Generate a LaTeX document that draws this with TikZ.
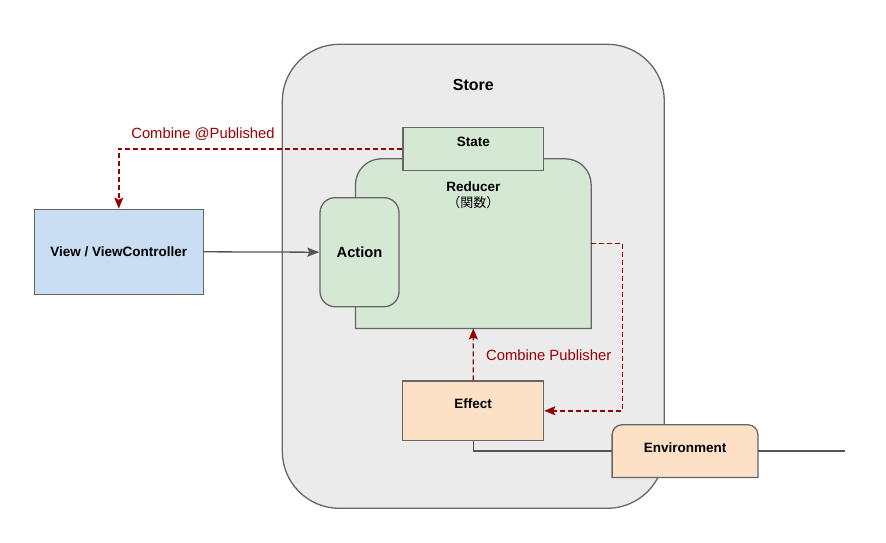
\documentclass[tikz,border=0pt]{standalone}
\usepackage{fontspec}
\setmainfont{Liberation Sans}
\newfontfamily\jpfont{Noto Sans CJK JP}
\usetikzlibrary{positioning}
\usetikzlibrary{arrows.meta}

\definecolor{storefill}{HTML}{EBEBEB}
\definecolor{boxline}{HTML}{666666}
\definecolor{greenfill}{HTML}{D5E8D4}
\definecolor{bluefill}{RGB}{201,222,242}
\definecolor{orangefill}{RGB}{252,225,199}
\definecolor{combinered}{HTML}{990000}
\definecolor{flowgray}{HTML}{555555}

\begin{document}
\begin{tikzpicture}[x=1pt, y=-1pt,
  every node/.style={font=\fontsize{13.5}{15}\selectfont\bfseries, inner sep=0pt},
  box/.style={draw=boxline, line width=1.3pt},
  edgetext/.style={font=\fontsize{14.8}{16}\selectfont, text=combinered},
  publish/.style={draw=combinered, line width=1.4pt, dash pattern=on 5pt off 3pt, -{Stealth[length=11pt, width=9pt, inset=2pt]}},
  flow/.style={draw=flowgray, line width=1.3pt, -{Stealth[length=12pt, width=9pt, inset=2pt]}}]
\useasboundingbox (0,0) rectangle (886,543);

% store
\draw[box, fill=storefill, rounded corners=57pt] (282.3,44.3) rectangle (664.3,508.3);
\node[font=\fontsize{16}{18}\selectfont\bfseries] (StoreTitle) at (473.3,85) {Store};

% reducer (top corners rounded)
\node[minimum width=235.3pt, minimum height=169.3pt] (Reducer) at (473.3,243.6) {};
\draw[box, fill=greenfill] (Reducer.south west) [rounded corners=26pt] -- (Reducer.north west) -- (Reducer.north east) [sharp corners] -- (Reducer.south east) -- cycle;
\node[align=center] (ReducerText) at (473.3,195.5) {Reducer\\[1pt]{\jpfont\mdseries\fontsize{13}{15}\selectfont （関数）}};

\node[box, fill=greenfill, minimum width=140.7pt, minimum height=43pt,
  label={[anchor=center, yshift=-15.5pt]north:State}] (State) at (473.3,148.8) {};
\node[box, fill=greenfill, rounded corners=15pt, minimum width=79pt, minimum height=109pt,
  font=\fontsize{14.7}{16}\selectfont\bfseries] (Action) at (359.5,252.2) {Action};

\node[box, fill=bluefill, minimum width=169pt, minimum height=85pt] (View) at (118.8,251.8) {View / ViewController};

\node[box, fill=orangefill, minimum width=141pt, minimum height=59.7pt,
  label={[anchor=center, yshift=-23.3pt]north:Effect}] (Effect) at (473.2,410.8) {};

% environment (top corners rounded)
\node[minimum width=145.4pt, minimum height=52.3pt] (Environment) at (685,451.1) {};
\draw[box, fill=orangefill] (Environment.south west) [rounded corners=10pt] -- (Environment.north west) -- (Environment.north east) [sharp corners] -- (Environment.south east) -- cycle;
\node (EnvText) at (685,447.3) {Environment};
\coordinate (EnvOut) at (845,451.1);

\draw[flow] (View.east) -- (Action.west);
\draw[publish] (State.west) -| (View.north);
\node[edgetext] (PublishedText) at (203,134) {Combine @Published};
\draw[publish] (Effect.north) -- (Reducer.south);
\node[edgetext] (PublisherText) at (548.7,355.7) {Combine Publisher};
\draw[publish] (Reducer.east) -- ++(31.3,0) |- (Effect.east);
\draw[draw=flowgray, line width=1.3pt] (Effect.south) |- (Environment.west);
\draw[draw=flowgray, line width=1.3pt] (Environment.east) -- (EnvOut);
\end{tikzpicture}
\end{document}
